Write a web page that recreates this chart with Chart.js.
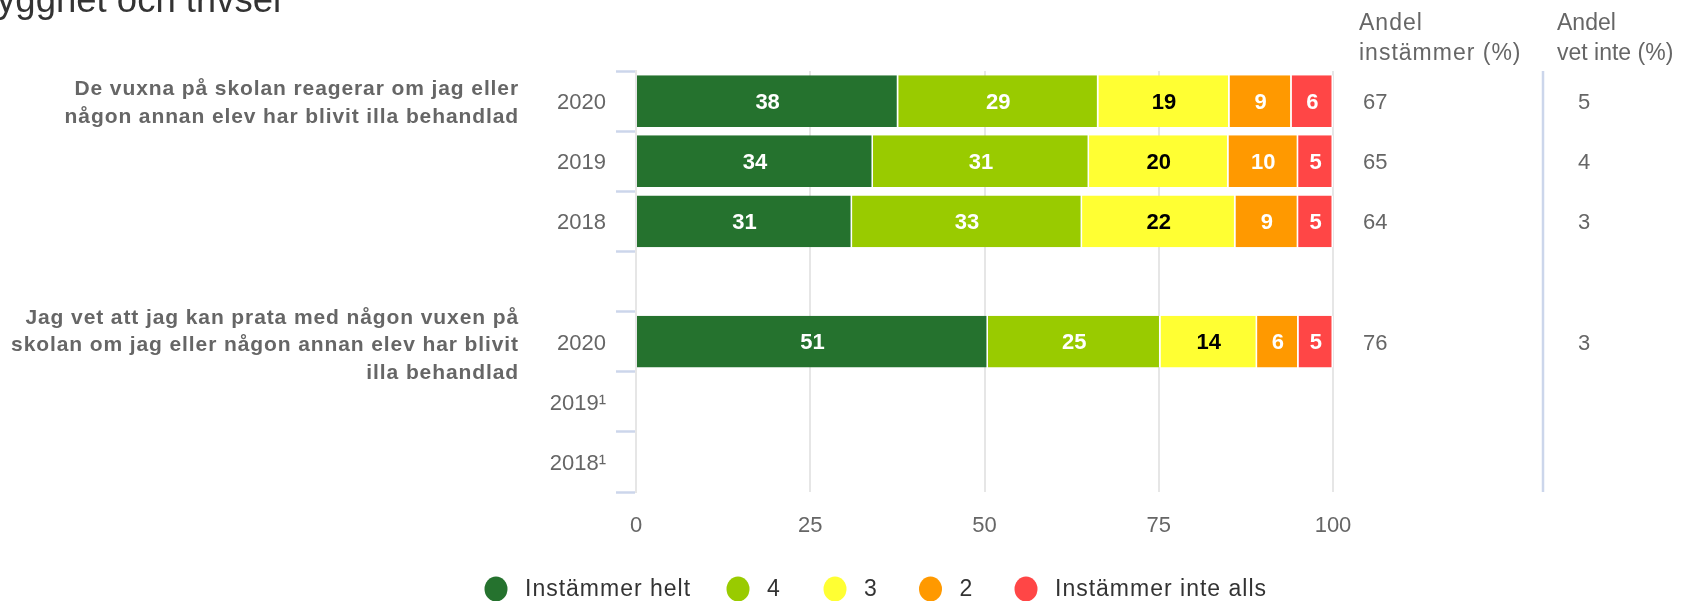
<!DOCTYPE html>
<html>
<head>
<meta charset="utf-8">
<script src="https://cdn.jsdelivr.net/npm/chart.js@4.4.1/dist/chart.umd.min.js"></script>
<style>
  html, body { margin: 0; padding: 0; background: #ffffff; }
  #wrap { width: 1681px; height: 601px; position: relative; }
</style>
</head>
<body>
<div id="wrap"><canvas id="c"></canvas></div>
<script>
// ---------- data ----------
const titleText = 'Trygghet och trivsel';
const years = ['2020', '2019', '2018', '', '2020', '2019¹', '2018¹'];
const questionLabels = [
  ['De vuxna på skolan reagerar om jag eller', 'någon annan elev har blivit illa behandlad'],
  ['Jag vet att jag kan prata med någon vuxen på', 'skolan om jag eller någon annan elev har blivit', 'illa behandlad']
];
const questionRows = [0, 4];
const seriesNames = ['Instämmer helt', '4', '3', '2', 'Instämmer inte alls'];
const instammerHelt = [38, 34, 31, null, 51, null, null];
const svar4 = [29, 31, 33, null, 25, null, null];
const svar3 = [19, 20, 22, null, 14, null, null];
const svar2 = [9, 10, 9, null, 6, null, null];
const instammerInteAlls = [6, 5, 5, null, 5, null, null];
const andelInstammer = [67, 65, 64, null, 76, null, null];
const andelVetInte = [5, 4, 3, null, 3, null, null];
const columnHeaders = [['Andel', 'instämmer (%)'], ['Andel', 'vet inte (%)']];
const xTickValues = [0, 25, 50, 75, 100];

// ---------- styles ----------
const FONT = '"Liberation Sans", Arial, Helvetica, sans-serif';
const seriesColors = ['#25722e', '#99cb00', '#ffff33', '#ff9900', '#ff4646'];
const labelColors = ['#ffffff', '#ffffff', '#000000', '#ffffff', '#ffffff'];

const allSeries = [instammerHelt, svar4, svar3, svar2, instammerInteAlls];
const rowTotals = years.map((_, i) => allSeries.reduce((a, s) => a + (s[i] == null ? 0 : s[i]), 0));

const datasets = allSeries.map((s, k) => ({
  label: seriesNames[k],
  data: s.map((v, i) => v == null ? null : v * 100 / rowTotals[i]),
  rawValues: s,
  backgroundColor: seriesColors[k],
  borderColor: '#ffffff',
  borderWidth: { right: 1.5 },
  borderSkipped: 'start',
  barPercentage: 0.86,
  categoryPercentage: 1.0
}));

const dataLabelPlugin = {
  id: 'dataLabels',
  afterDatasetsDraw(chart) {
    const ctx = chart.ctx;
    ctx.save();
    ctx.font = 'bold 22px ' + FONT;
    ctx.textAlign = 'center';
    ctx.textBaseline = 'middle';
    chart.data.datasets.forEach((ds, k) => {
      const meta = chart.getDatasetMeta(k);
      meta.data.forEach((el, i) => {
        const v = ds.rawValues[i];
        if (v == null) return;
        const p = el.getCenterPoint();
        ctx.fillStyle = labelColors[k];
        ctx.fillText(String(v), p.x, p.y + 1.5);
      });
    });
    ctx.restore();
  }
};

const extrasPlugin = {
  id: 'extras',
  afterDraw(chart) {
    const ctx = chart.ctx;
    const yS = chart.scales.y;
    const area = chart.chartArea;
    ctx.save();

    // title (partly outside canvas, as in the reference)
    ctx.font = '36.5px ' + FONT;
    ctx.fillStyle = '#333333';
    ctx.textAlign = 'left';
    ctx.textBaseline = 'alphabetic';
    ctx.fillText(titleText, -36, 12);

    // question labels
    ctx.font = 'bold 21px ' + FONT;
    ctx.fillStyle = '#666666';
    ctx.textAlign = 'right';
    ctx.textBaseline = 'middle';
    ctx.letterSpacing = '0.9px';
    const lh = 27.5;
    const qShift = [2, 4];
    questionLabels.forEach((lines, q) => {
      const cy = yS.getPixelForValue(questionRows[q]) + qShift[q];
      lines.forEach((ln, j) => {
        ctx.fillText(ln, 519, cy + (j - (lines.length - 1) / 2) * lh);
      });
    });

    // column headers
    ctx.font = '23px ' + FONT;
    ctx.fillStyle = '#666666';
    ctx.textAlign = 'left';
    ctx.textBaseline = 'alphabetic';
    const headerX = [1359, 1557];
    const headerSpacing = ['1px', '0px'];
    columnHeaders.forEach((lines, c) => {
      ctx.letterSpacing = headerSpacing[c];
      lines.forEach((ln, j) => ctx.fillText(ln, headerX[c], 30 + j * 30));
    });
    ctx.letterSpacing = '0px';

    // column values
    ctx.font = '22px ' + FONT;
    ctx.textBaseline = 'middle';
    years.forEach((_, i) => {
      const cy = yS.getPixelForValue(i) + 2;
      if (andelInstammer[i] != null) ctx.fillText(String(andelInstammer[i]), 1363, cy);
      if (andelVetInte[i] != null) ctx.fillText(String(andelVetInte[i]), 1578, cy);
    });

    // separator line
    ctx.strokeStyle = '#ccd6eb';
    ctx.lineWidth = 2.5;
    ctx.beginPath();
    ctx.moveTo(1543, area.top);
    ctx.lineTo(1543, area.bottom);
    ctx.stroke();

    // legend
    const legendCx = [496, 738, 835, 930.5, 1026];
    const ly = 589;
    ctx.font = '23px ' + FONT;
    ctx.letterSpacing = '1px';
    ctx.textBaseline = 'middle';
    seriesNames.forEach((name, k) => {
      ctx.fillStyle = seriesColors[k];
      ctx.beginPath();
      ctx.ellipse(legendCx[k], ly, 11.5, 12.5, 0, 0, Math.PI * 2);
      ctx.fill();
      ctx.fillStyle = '#333333';
      ctx.fillText(name, legendCx[k] + 29, ly + 1);
    });
    ctx.letterSpacing = '0px';
    ctx.restore();
  }
};

new Chart(document.getElementById('c'), {
  type: 'bar',
  data: { labels: years, datasets: datasets },
  options: {
    indexAxis: 'y',
    responsive: true,
    maintainAspectRatio: false,
    animation: false,
    layout: { padding: { left: 0, top: 71, right: 348, bottom: 49 } },
    plugins: { legend: { display: false }, tooltip: { enabled: false } },
    scales: {
      x: {
        stacked: true,
        min: 0,
        max: 100,
        afterBuildTicks: (s) => { s.ticks = xTickValues.map(v => ({ value: v })); },
        afterFit: (s) => { s.height = 60; },
        grid: { color: '#e6e6e6', lineWidth: 2, drawTicks: false },
        border: { display: false },
        ticks: { font: { family: FONT, size: 22 }, color: '#666666', padding: 21 }
      },
      y: {
        stacked: true,
        afterFit: (s) => { s.width = 636; },
        grid: { drawOnChartArea: false, offset: true, tickLength: 20, tickColor: '#ccd6eb', tickWidth: 2.5 },
        border: { color: '#e6e6e6', width: 2 },
        ticks: { font: { family: FONT, size: 22 }, color: '#666666', padding: 10, labelOffset: 2 }
      }
    }
  },
  plugins: [dataLabelPlugin, extrasPlugin]
});
</script>
</body>
</html>
